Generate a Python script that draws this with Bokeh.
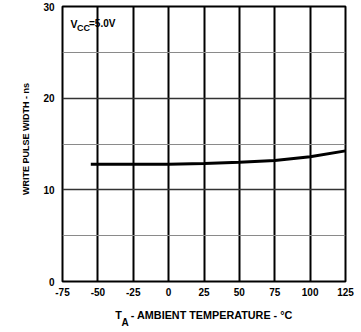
from bokeh.plotting import figure
from bokeh.models import Range1d, FixedTicker, Grid, Label, Title
from bokeh.embed import file_html
from bokeh.resources import INLINE

# data
temps = [-55, -25, 0, 25, 50, 75, 100, 125]
pulse_width = [12.8, 12.8, 12.8, 12.87, 13.0, 13.2, 13.6, 14.25]
x_ticks = [-75, -50, -25, 0, 25, 50, 75, 100, 125]
x_tick_labels = ["-75", "-50", "-25", "0", "25", "50", "75", "100", "125"]
y_ticks = [0, 10, 20, 30]
y_tick_labels = ["0", "10", "20", "30"]
major_grid_y = [10, 20]
minor_grid_y = [5, 15, 25]
grid_x = [-50, -25, 0, 25, 50, 75, 100]

FONT = "Liberation Sans"
NB = "\u00a0"

p = figure(width=361, height=332, output_backend="svg", toolbar_location=None,
           x_range=Range1d(-75, 125), y_range=Range1d(0, 30),
           min_border_left=62, min_border_right=16, min_border_top=6, min_border_bottom=51)
p.background_fill_color = "white"
p.border_fill_color = "white"
p.outline_line_color = "black"
p.outline_line_width = 2

# axes
p.xaxis.ticker = FixedTicker(ticks=x_ticks)
p.xaxis.major_label_overrides = dict(zip(x_ticks, x_tick_labels))
p.yaxis.ticker = FixedTicker(ticks=y_ticks)
p.yaxis.major_label_overrides = dict(zip(y_ticks, y_tick_labels))
for ax in (p.xaxis[0], p.yaxis[0]):
    ax.axis_line_color = None
    ax.major_tick_line_color = None
    ax.minor_tick_line_color = None
    ax.major_tick_out = 0
    ax.major_tick_in = 0
    ax.minor_tick_out = 0
    ax.minor_tick_in = 0
    ax.major_label_text_font = FONT
    ax.major_label_text_font_size = "10px"
    ax.major_label_text_font_style = "bold"
    ax.major_label_text_color = "black"
    ax.axis_label_text_font = FONT
    ax.axis_label_text_font_style = "bold"
    ax.axis_label_text_color = "black"
p.xaxis.major_label_standoff = 6
p.yaxis.major_label_standoff = 8
p.yaxis.axis_label = NB * 4 + "WRITE PULSE WIDTH - ns"
p.yaxis.axis_label_text_font_size = "9px"
p.yaxis.axis_label_standoff = 9
p.xaxis.axis_label = "T" + NB * 3 + "- AMBIENT TEMPERATURE - °C"
p.xaxis.axis_label_text_font_size = "10.8px"
p.xaxis.axis_label_standoff = 10

# subscript of T_A
p.add_layout(Title(text="A", align="left", offset=59, standoff=-14, vertical_align="top",
                   text_font=FONT, text_font_size="10px", text_font_style="bold",
                   text_color="black"), "below")

# grids
p.xgrid.ticker = FixedTicker(ticks=grid_x)
p.xgrid.grid_line_color = "black"
p.xgrid.grid_line_width = 2
p.ygrid.ticker = FixedTicker(ticks=major_grid_y)
p.ygrid.grid_line_color = "#333333"
p.ygrid.grid_line_width = 1.5
g2 = Grid(dimension=1, ticker=FixedTicker(ticks=minor_grid_y),
          grid_line_color="#8a8a8a", grid_line_width=1)
p.add_layout(g2)

# curve
p.line(temps, pulse_width, line_color="black", line_width=3)

# VCC annotation
common = dict(text_font=FONT, text_font_style="bold", text_color="black")
p.add_layout(Label(x=-75, y=30, x_offset=8, y_offset=-11, text="V", text_baseline="top",
                   text_font_size="10.5px", **common))
p.add_layout(Label(x=-75, y=30, x_offset=14.5, y_offset=-16, text="CC", text_baseline="top",
                   text_font_size="9px", **common))
p.add_layout(Label(x=-75, y=30, x_offset=26.5, y_offset=-11, text="=5.0V", text_baseline="top",
                   text_font_size="10px", **common))

open("out.html", "w").write(file_html(p, INLINE))
